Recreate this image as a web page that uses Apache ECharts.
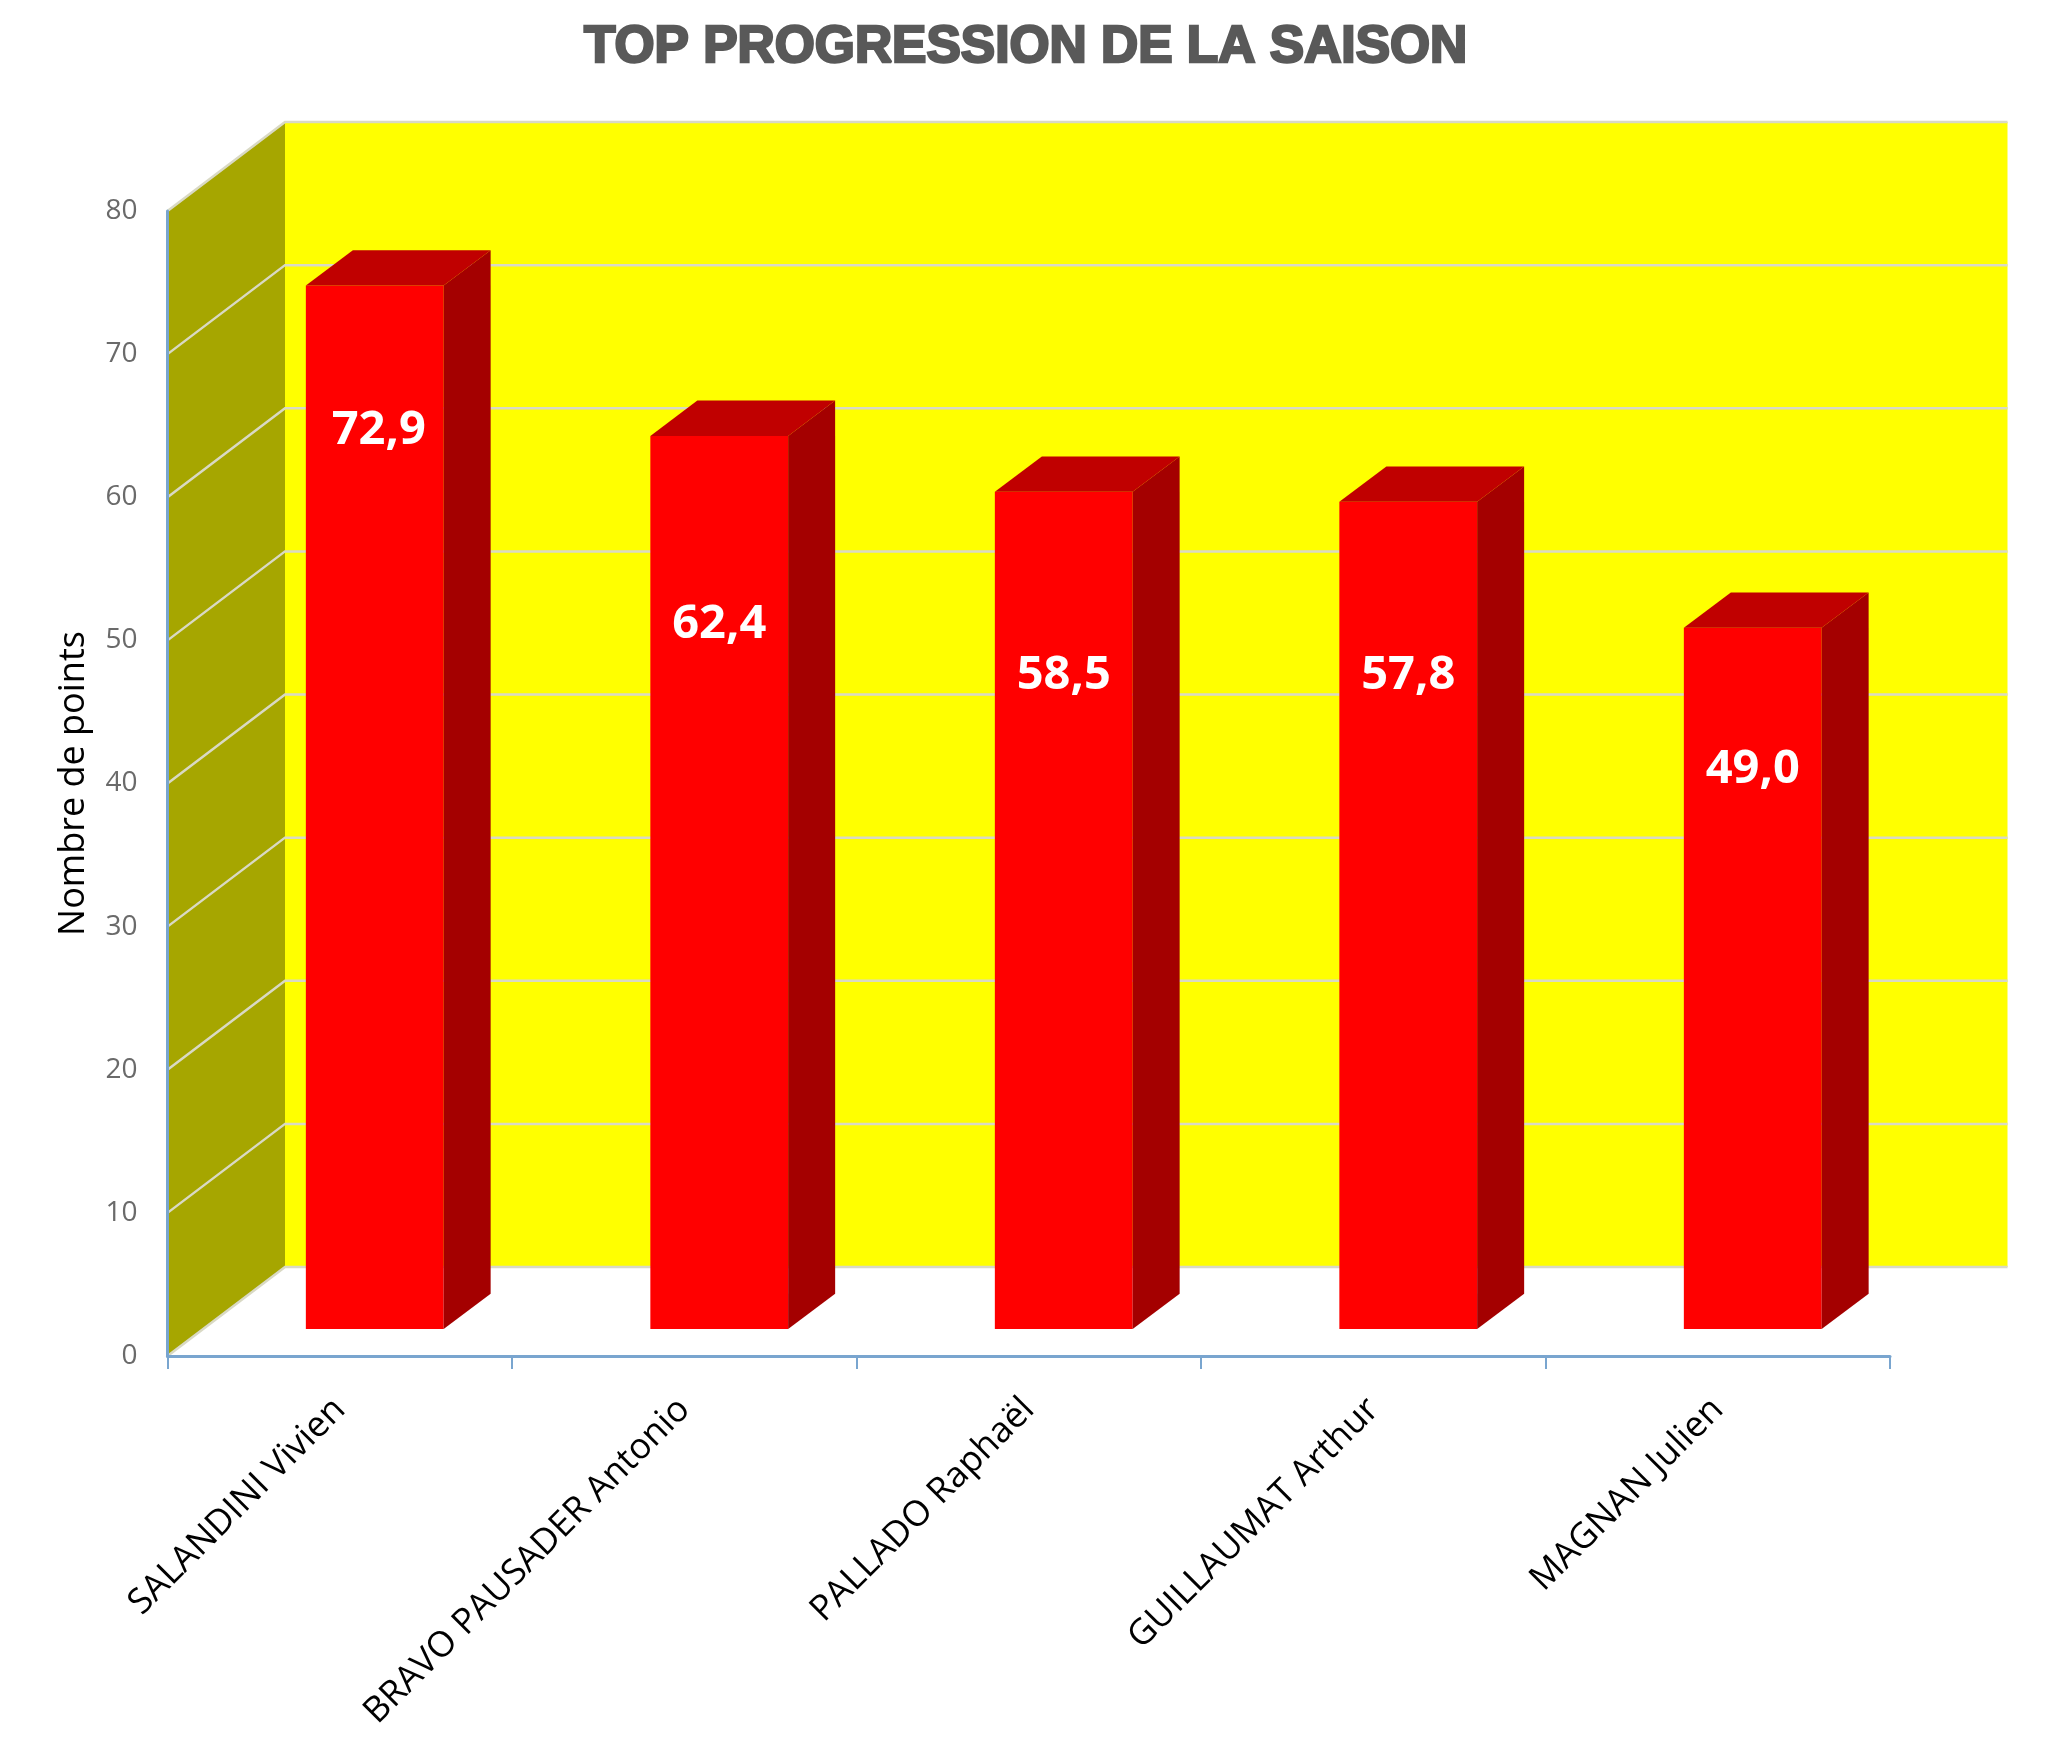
<!DOCTYPE html>
<html><head><meta charset="utf-8">
<style>html,body{margin:0;padding:0;background:#fff}#c{width:2048px;height:1753px}</style>
<script src="https://cdn.jsdelivr.net/npm/echarts@6/dist/echarts.min.js"></script>
</head><body><div id="c"></div>
<script>
const categories = ['SALANDINI Vivien','BRAVO PAUSADER Antonio','PALLADO Raphaël','GUILLAUMAT Arthur','MAGNAN Julien'];
const points = [72.9,62.4,58.5,57.8,49.0];
const yTicks = [0,10,20,30,40,50,60,70,80];
const labelDrop = [145,189,184,174,142];
const labelNudge = [4,0,0,0,0];

const DEPTH_X = 117.5, DEPTH_Y = 89;   // back wall offset
const BAR_SHIFT_X = 35, BAR_SHIFT_Y = 27; // bars stand inside the floor
const BAR_DX = 47, BAR_DY = 35.3;

const chart = echarts.init(document.getElementById('c'), null, {renderer:'canvas', width:2048, height:1753});
const poly = (points, fill, z2) => ({type:'polygon', shape:{points}, style:{fill}, z2});

chart.setOption({
  animation:false,
  backgroundColor:'#ffffff',
  title:{
    text:'TOP PROGRESSION DE LA SAISON', left:579, top:17,
    textStyle:{fontFamily:'Liberation Sans', fontWeight:'bold', fontSize:51.5, color:'#595959',
      textBorderColor:'#595959', textBorderWidth:2.5}
  },
  grid:{left:167.5, top:211, width:1722.5, height:1145, containLabel:false},
  xAxis:{
    type:'category', data:categories, z:5,
    axisLine:{lineStyle:{color:'#79A5CF', width:3}},
    axisTick:{show:true, length:13, lineStyle:{color:'#79A5CF', width:2}},
    axisLabel:{rotate:45, margin:48, interval:0, fontFamily:'Open Sans', fontSize:35.5, color:'#000000'}
  },
  yAxis:{
    type:'value', min:0, max:80, interval:10, z:5,
    name:'Nombre de points', nameLocation:'middle', nameGap:76, nameRotate:90,
    nameTextStyle:{fontFamily:'Open Sans', fontSize:36, color:'#000000'},
    axisLine:{show:true, lineStyle:{color:'#79A5CF', width:3}},
    axisTick:{show:false},
    splitLine:{show:false},
    axisLabel:{margin:30, fontFamily:'Open Sans', fontSize:28, color:'#6A6A6A'}
  },
  series:[
    { // walls
      type:'custom', silent:true, z:1, clip:false,
      data:[[0,80]],
      renderItem(params, api){
        const top = api.coord([0,80])[1], bot = api.coord([0,0])[1];
        const l = params.coordSys.x, r = l + params.coordSys.width;
        return {type:'group', children:[
          poly([[l+DEPTH_X,top-DEPTH_Y],[r+DEPTH_X,top-DEPTH_Y],[r+DEPTH_X,bot-DEPTH_Y],[l+DEPTH_X,bot-DEPTH_Y]],'#FFFF00',1),
          poly([[l,top],[l+DEPTH_X,top-DEPTH_Y],[l+DEPTH_X,bot-DEPTH_Y],[l,bot]],'#A6A600',1)
        ]};
      }
    },
    { // gridlines
      type:'custom', silent:true, z:2, clip:false,
      data:yTicks.map(v=>[0,v]),
      renderItem(params, api){
        const y = api.coord([0,api.value(1)])[1];
        const l = params.coordSys.x, r = l + params.coordSys.width;
        return {type:'polyline', shape:{points:[[l,y],[l+DEPTH_X,y-DEPTH_Y],[r+DEPTH_X,y-DEPTH_Y]]},
          style:{fill:null, stroke:'#D9D9C4', lineWidth:2.5}};
      }
    },
    { // bars
      type:'custom', name:'Nombre de points', silent:true, z:3, clip:false,
      data:points.map((v,i)=>[i,v]),
      renderItem(params, api){
        const i = api.value(0), v = api.value(1);
        const w = api.size([1,0])[0]*0.4;
        const cx = api.coord([i,v])[0] + BAR_SHIFT_X;
        const t = api.coord([i,v])[1] - BAR_SHIFT_Y;
        const b = api.coord([i,0])[1] - BAR_SHIFT_Y;
        const l = cx - w/2, r = cx + w/2;
        return {type:'group', children:[
          poly([[l,t],[r,t],[r,b],[l,b]],'#FF0000',3),
          poly([[r,t],[r+BAR_DX,t-BAR_DY],[r+BAR_DX,b-BAR_DY],[r,b]],'#A40000',3),
          poly([[l,t],[l+BAR_DX,t-BAR_DY],[r+BAR_DX,t-BAR_DY],[r,t]],'#C00000',3),
          {type:'text', z2:5, style:{x:cx+labelNudge[i], y:t+labelDrop[i], text:v.toFixed(1).replace('.',','),
            align:'center', verticalAlign:'middle', fill:'#FFFFFF',
            fontFamily:'Open Sans', fontWeight:'bold', fontSize:47}}
        ]};
      }
    }
  ]
});
</script></body></html>
